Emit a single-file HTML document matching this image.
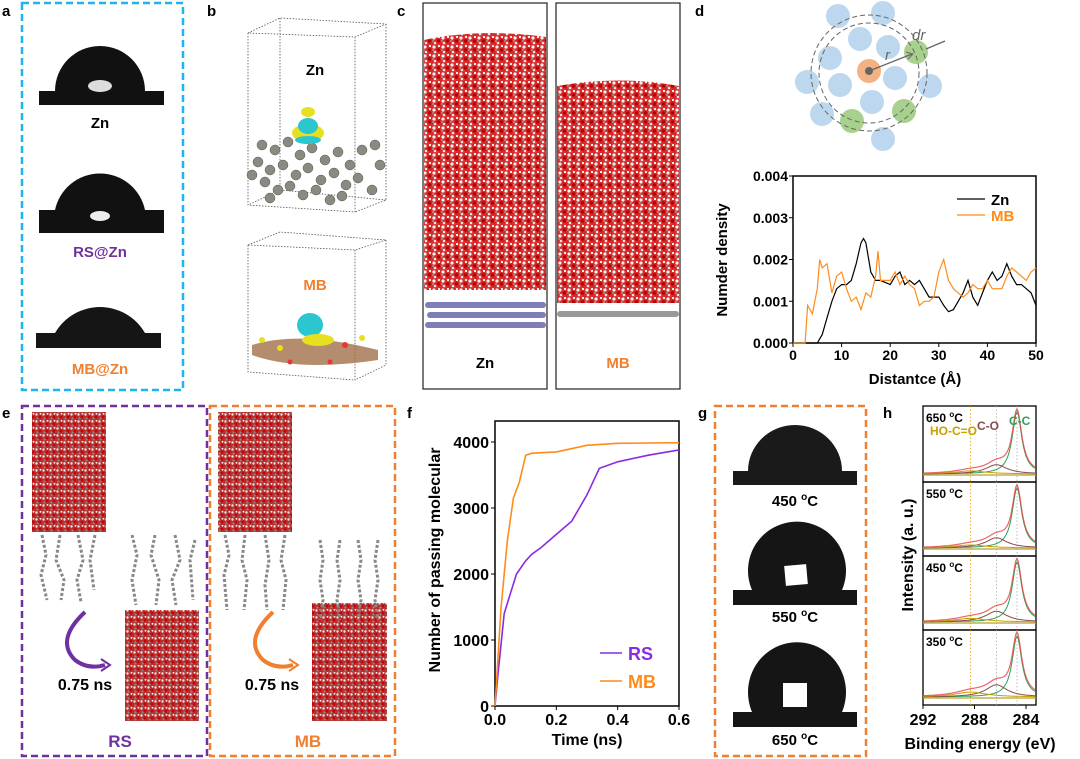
<!DOCTYPE html>
<html><head><meta charset="utf-8"><style>
body{margin:0;background:#fff}
svg{display:block;font-family:"Liberation Sans",Arial,sans-serif;font-weight:bold}
</style></head><body>
<svg id="fig" width="1080" height="759" viewBox="0 0 1080 759">
<defs>
<pattern id="water" width="9" height="9" patternUnits="userSpaceOnUse">
<rect width="9" height="9" fill="#d42a2a"/>
<circle cx="2" cy="2" r="1.6" fill="#f2f2f2"/><circle cx="6.5" cy="5" r="1.7" fill="#b80000"/>
<circle cx="3" cy="7" r="1.3" fill="#e8e8e8"/><circle cx="7" cy="1" r="1.1" fill="#ffffff"/>
<circle cx="1" cy="5" r="1" fill="#999"/><circle cx="5" cy="8.3" r="1" fill="#ee3030"/>
</pattern>
<pattern id="water2" width="7" height="7" patternUnits="userSpaceOnUse">
<rect width="7" height="7" fill="#b83030"/>
<circle cx="1.5" cy="1.5" r="1.2" fill="#e8e8e8"/><circle cx="5" cy="4" r="1.4" fill="#c00"/>
<circle cx="2.5" cy="5.5" r="1.1" fill="#888"/><circle cx="5.5" cy="0.8" r="0.9" fill="#f5f5f5"/>
</pattern>
</defs>

<g font-size="15" fill="#000">
<text x="2" y="16">a</text><text x="207" y="16">b</text><text x="397" y="16">c</text><text x="695" y="16">d</text>
<text x="2" y="418">e</text><text x="407" y="418">f</text><text x="698" y="418">g</text><text x="883" y="418">h</text>
</g>

<g>
<rect x="22" y="3" width="161" height="387" fill="none" stroke="#1eb4ef" stroke-width="2.5" stroke-dasharray="7,4"/>
<path d="M39,91 H55 A41,41 0 0 1 145,91 H164 V105 H39Z" fill="#111"/>
<ellipse cx="100" cy="86" rx="12" ry="6" fill="#ddd"/>
<text x="100" y="128" font-size="15" text-anchor="middle">Zn</text>
<path d="M39,210 H55 A46,46 0 0 1 145,210 H164 V233 H39Z" fill="#111"/>
<ellipse cx="100" cy="216" rx="10" ry="5" fill="#eee"/>
<text x="100" y="257" font-size="15" text-anchor="middle" fill="#7030a0">RS@Zn</text>
<path d="M36,333 H55 A52,52 0 0 1 145,333 H161 V348 H36Z" fill="#151515"/>
<text x="100" y="374" font-size="15" text-anchor="middle" fill="#f08030">MB@Zn</text>
</g>

<g fill="none" stroke="#555" stroke-width="0.8" stroke-dasharray="1.5,1.5">
<path d="M248,33 L280,18 L386,24 L355,37 Z M248,33 V205 L355,212 V37 M386,24 V200 L355,212 M280,18 V190 L248,205 M280,190 L386,200"/>
<path d="M248,245 L280,232 L386,240 L355,250 Z M248,245 V372 L355,380 V250 M386,240 V365 L355,380"/>
</g>
<g fill="#8a8a80" stroke="#555" stroke-width="0.5">
<circle cx="262" cy="145" r="5"/><circle cx="275" cy="150" r="5"/><circle cx="288" cy="142" r="5"/><circle cx="300" cy="155" r="5"/><circle cx="312" cy="148" r="5"/><circle cx="325" cy="160" r="5"/><circle cx="338" cy="152" r="5"/><circle cx="350" cy="165" r="5"/><circle cx="362" cy="150" r="5"/><circle cx="375" cy="145" r="5"/>
<circle cx="258" cy="162" r="5"/><circle cx="270" cy="170" r="5"/><circle cx="283" cy="165" r="5"/><circle cx="296" cy="175" r="5"/><circle cx="308" cy="168" r="5"/><circle cx="321" cy="180" r="5"/><circle cx="334" cy="173" r="5"/><circle cx="346" cy="185" r="5"/><circle cx="358" cy="178" r="5"/><circle cx="372" cy="190" r="5"/>
<circle cx="265" cy="182" r="5"/><circle cx="278" cy="190" r="5"/><circle cx="290" cy="186" r="5"/><circle cx="303" cy="195" r="5"/><circle cx="316" cy="190" r="5"/><circle cx="330" cy="200" r="5"/><circle cx="342" cy="196" r="5"/><circle cx="252" cy="175" r="5"/><circle cx="270" cy="198" r="5"/><circle cx="380" cy="165" r="5"/>
</g>
<g>
<ellipse cx="308" cy="133" rx="16" ry="9" fill="#e6e020"/><ellipse cx="308" cy="126" rx="10" ry="8" fill="#2cc6d0"/><ellipse cx="308" cy="112" rx="7" ry="5" fill="#e6e020"/><ellipse cx="308" cy="140" rx="13" ry="4" fill="#2cc6d0"/>
</g>
<text x="315" y="75" font-size="15" text-anchor="middle">Zn</text>
<text x="315" y="290" font-size="15" text-anchor="middle" fill="#f08030">MB</text>
<g>
<path d="M252,345 Q300,330 378,350 L378,360 Q300,372 252,355Z" fill="#a0704a" opacity="0.8"/>
<ellipse cx="310" cy="325" rx="13" ry="12" fill="#2cc6d0"/><ellipse cx="318" cy="340" rx="16" ry="6" fill="#e6e020"/>
<circle cx="262" cy="340" r="3" fill="#e6e020"/><circle cx="280" cy="348" r="3" fill="#e6e020"/><circle cx="345" cy="345" r="3" fill="#e33"/><circle cx="362" cy="338" r="3" fill="#e6e020"/><circle cx="290" cy="362" r="2.5" fill="#e33"/><circle cx="330" cy="362" r="2.5" fill="#e33"/>
</g>

<g>
<rect x="423" y="3" width="124" height="386" fill="none" stroke="#222" stroke-width="1.2"/>
<rect x="556" y="3" width="124" height="386" fill="none" stroke="#222" stroke-width="1.2"/>
<path d="M424,40 Q480,28 546,37 V290 L424,290Z" fill="url(#water)"/>
<path d="M557,86 Q620,75 679,86 V303 L557,303Z" fill="url(#water)"/>
<g fill="#7f7fb8"><rect x="425" y="302" width="121" height="6" rx="3"/><rect x="427" y="312" width="119" height="6" rx="3"/><rect x="425" y="322" width="121" height="6" rx="3"/></g>
<rect x="557" y="311" width="122" height="6" rx="3" fill="#999"/>
<text x="485" y="368" font-size="15" text-anchor="middle">Zn</text>
<text x="618" y="368" font-size="15" text-anchor="middle" fill="#f08030">MB</text>
</g>

<g>
<g fill="#bdd7ee">
<circle cx="838" cy="16" r="12"/><circle cx="883" cy="13" r="12"/><circle cx="860" cy="39" r="12"/><circle cx="888" cy="47" r="12"/><circle cx="830" cy="58" r="12"/><circle cx="895" cy="78" r="12"/><circle cx="807" cy="82" r="12"/><circle cx="840" cy="85" r="12"/><circle cx="930" cy="86" r="12"/><circle cx="872" cy="102" r="12"/><circle cx="822" cy="114" r="12"/><circle cx="883" cy="139" r="12"/>
</g>
<g fill="#a9d18e"><circle cx="916" cy="52" r="12"/><circle cx="852" cy="121" r="12"/><circle cx="904" cy="111" r="12"/></g>
<circle cx="869" cy="71" r="12" fill="#f4b183"/><circle cx="869" cy="71" r="4" fill="#666"/>
<circle cx="869" cy="73" r="50" fill="none" stroke="#666" stroke-dasharray="5,3"/>
<circle cx="869" cy="73" r="58" fill="none" stroke="#666" stroke-dasharray="5,3"/>
<line x1="869" y1="71" x2="912" y2="54" stroke="#666" stroke-width="1.3"/><path d="M906,52 L913,54 L908,59" fill="none" stroke="#666"/>
<line x1="945" y1="41" x2="926" y2="49" stroke="#666" stroke-width="1.3"/>
<text x="885" y="60" font-size="15" font-weight="normal" font-style="italic" fill="#666">r</text>
<text x="912" y="40" font-size="15" font-weight="normal" font-style="italic" fill="#666">dr</text>
</g>
<g id="chartD"></g>

<g>
<rect x="22" y="406" width="185" height="350" fill="none" stroke="#7030a0" stroke-width="2.5" stroke-dasharray="7,4"/>
<rect x="210" y="406" width="185" height="350" fill="none" stroke="#f08030" stroke-width="2.5" stroke-dasharray="7,4"/>
<rect x="32" y="412" width="74" height="120" fill="url(#water2)"/>
<rect x="125" y="610" width="74" height="111" fill="url(#water2)"/>
<rect x="218" y="412" width="74" height="120" fill="url(#water2)"/>
<rect x="312" y="603" width="75" height="118" fill="url(#water2)"/>
<g stroke="#888" stroke-width="3" fill="none" stroke-dasharray="3,2">
<path d="M42,535 l4,20 -5,20 6,25"/><path d="M60,535 l-4,25 8,20 -3,20"/><path d="M78,535 l5,25 -6,20 4,22"/><path d="M95,535 l-5,25 4,30"/>
<path d="M132,535 l5,20 -5,25 4,25"/><path d="M155,535 l-4,20 8,25 -3,25"/><path d="M175,535 l5,25 -8,20 4,25"/><path d="M195,540 l-5,20 3,40"/>
<path d="M225,535 l4,20 -5,20 3,35"/><path d="M245,535 l-3,25 5,20 -3,30"/><path d="M265,535 l4,25 -4,25 2,25"/><path d="M285,535 l-4,25 5,20 -3,30"/>
<path d="M320,540 l3,20 -3,20 3,20 -3,20"/><path d="M340,540 l-3,20 3,20 -3,20 3,20"/><path d="M358,540 l3,20 -3,20 3,20 -3,20"/><path d="M378,540 l-3,20 3,20 -3,20 3,20"/>
</g>
<path d="M85,612 Q55,640 75,660 Q88,670 105,665" fill="none" stroke="#7030a0" stroke-width="4"/>
<path d="M101,659 L110,665 L101,671" fill="none" stroke="#7030a0" stroke-width="2"/>
<path d="M273,612 Q243,640 263,660 Q276,670 293,665" fill="none" stroke="#f08030" stroke-width="4"/>
<path d="M289,659 L298,665 L289,671" fill="none" stroke="#f08030" stroke-width="2"/>
<text x="85" y="690" font-size="16" text-anchor="middle">0.75 ns</text>
<text x="272" y="690" font-size="16" text-anchor="middle">0.75 ns</text>
<text x="120" y="747" font-size="17" text-anchor="middle" fill="#7030a0">RS</text>
<text x="308" y="747" font-size="17" text-anchor="middle" fill="#f08030">MB</text>
</g>

<g id="chartF"></g>

<g>
<rect x="715" y="406" width="151" height="350" fill="none" stroke="#f08030" stroke-width="2.5" stroke-dasharray="7,4"/>
<path d="M733,471 H748 A47,46 0 0 1 842,471 H857 V485 H733Z" fill="#1a1a1a"/>
<text x="795" y="506" font-size="15" text-anchor="middle">450 <tspan font-size="10" dy="-6">o</tspan><tspan dy="6">C</tspan></text>
<path d="M733,590 H752 A49,49 0 1 1 842,590 H857 V605 H733Z" fill="#151515"/>
<rect x="785" y="565" width="22" height="20" fill="#fff" transform="rotate(-5 796 575)"/>
<text x="795" y="622" font-size="15" text-anchor="middle">550 <tspan font-size="10" dy="-6">o</tspan><tspan dy="6">C</tspan></text>
<path d="M733,712 H752 A49,50 0 1 1 842,712 H857 V727 H733Z" fill="#151515"/>
<rect x="783" y="683" width="24" height="24" fill="#fff"/>
<text x="795" y="745" font-size="15" text-anchor="middle">650 <tspan font-size="10" dy="-6">o</tspan><tspan dy="6">C</tspan></text>
</g>

<g id="chartH"></g>
</svg>

<script>
const dX_Zn = [0,5,6,7,8,9,10,11,12,13,14,14.5,15,16,17,18,20,21,22,23,24,25,26,27,28,30,31,32,33,34,35,36,37,38,39,40,41,42,43,44,45,46,47,48,49,50];
const dY_Zn = [0,0,0.0002,0.0006,0.001,0.0013,0.0014,0.0014,0.0015,0.0019,0.0024,0.0025,0.0024,0.0017,0.0015,0.0015,0.0014,0.0016,0.0017,0.0014,0.0015,0.0014,0.0015,0.0013,0.0011,0.0011,0.0009,0.00075,0.0008,0.001,0.0012,0.0015,0.0011,0.0009,0.0012,0.0015,0.0017,0.0015,0.0016,0.0019,0.0016,0.0014,0.0014,0.0013,0.0012,0.0009];
const dX_MB = [0,2.5,3,4,5,5.5,6,7,8,9,10,11,12,13,14,15,16,17,17.5,18,19,20,21,22,23,24,25,26,27,28,29,30,31,32,33,34,35,36,37,38,39,40,41,42,43,44,45,46,47,48,49,50];
const dY_MB = [0,0,0.0009,0.0007,0.0013,0.002,0.0018,0.0019,0.0012,0.0016,0.0017,0.0013,0.001,0.0011,0.0008,0.0012,0.0011,0.0016,0.0022,0.0015,0.0015,0.0015,0.0017,0.0014,0.0016,0.0014,0.0013,0.0009,0.001,0.001,0.0011,0.0017,0.002,0.0015,0.0013,0.0012,0.0011,0.0012,0.0014,0.0013,0.0013,0.0015,0.0013,0.0013,0.0013,0.0016,0.0018,0.0017,0.0016,0.0015,0.0017,0.0018];
const dXTicks = [0,10,20,30,40,50];
const dYTicks = ["0.000","0.001","0.002","0.003","0.004"];
const fX_RS = [0,0.01,0.03,0.05,0.07,0.1,0.12,0.15,0.2,0.25,0.3,0.34,0.4,0.5,0.6];
const fY_RS = [0,500,1400,1700,2000,2200,2300,2400,2600,2800,3200,3600,3700,3800,3880];
const fX_MB = [0,0.02,0.04,0.06,0.08,0.1,0.12,0.2,0.3,0.4,0.6];
const fY_MB = [0,1500,2500,3150,3400,3800,3830,3850,3950,3980,3990];
const fXTicks = ["0.0","0.2","0.4","0.6"];
const fYTicks = [0,1000,2000,3000,4000];
const hTemps = ["650","550","450","350"];
const hCC = [1.0,1.0,1.0,1.0];
const hCO = [0.15,0.17,0.18,0.2];
const hCOOH = [0.05,0.05,0.06,0.08];
const hPeaks = [284.7,286.3,288.3];
const hXTicks = [292,288,284];

const NS="http://www.w3.org/2000/svg";
function mk(parent,tag,attrs,text){const e=document.createElementNS(NS,tag);for(const k in attrs)e.setAttribute(k,attrs[k]);if(text!==undefined)e.textContent=text;parent.appendChild(e);return e;}

(function(){
const g=document.getElementById('chartD');
const x0=793,x1=1036,y0=343,y1=176;
const sx=v=>x0+(v/50)*(x1-x0), sy=v=>y0-(v/0.004)*(y0-y1);
const box=mk(g,'rect',{x:x0,y:y1,width:x1-x0,height:y0-y1,fill:'none',stroke:'#000','stroke-width':1.5});


dXTicks.forEach(v=>{mk(g,'line',{x1:sx(v),x2:sx(v),y1:y0,y2:y0+4,stroke:'#000'});
const t=mk(g,'text',{x:sx(v),y:y0+17,'font-size':14,'text-anchor':'middle'},v);

});
dYTicks.forEach((s,i)=>{const v=parseFloat(s);mk(g,'line',{x1:x0,x2:x0-4,y1:sy(v),y2:sy(v),stroke:'#000'});
const t=mk(g,'text',{x:x0-5,y:sy(v)+5,'font-size':14,'text-anchor':'end'},s);

});
const xt=mk(g,'text',{x:915,y:384,'font-size':15,'text-anchor':'middle'},'Distantce (Å)');


const yt=mk(g,'text',{x:0,y:0,'font-size':15,'text-anchor':'middle',transform:'translate(727,260) rotate(-90)'},'Numder density');


const lz=mk(g,'path',{d:dX_Zn.map((v,i)=>(i?'L':'M')+sx(v).toFixed(1)+','+sy(dY_Zn[i]).toFixed(1)).join(''),fill:'none',stroke:'#000','stroke-width':1.2});


const lm=mk(g,'path',{d:dX_MB.map((v,i)=>(i?'L':'M')+sx(v).toFixed(1)+','+sy(dY_MB[i]).toFixed(1)).join(''),fill:'none',stroke:'#ff8c1a','stroke-width':1.2});


mk(g,'line',{x1:957,x2:985,y1:199,y2:199,stroke:'#000','stroke-width':1.2});
const l1=mk(g,'text',{x:991,y:205,'font-size':15},'Zn');


mk(g,'line',{x1:957,x2:985,y1:215,y2:215,stroke:'#ff8c1a','stroke-width':1.2});
const l2=mk(g,'text',{x:991,y:221,'font-size':15,fill:'#ff8c1a'},'MB');


})();

(function(){
const g=document.getElementById('chartF');
const x0=495,x1=679,y0=706,yTop=421;
const sx=v=>x0+(v/0.6)*(x1-x0), sy=v=>y0-v*0.066;
const box=mk(g,'rect',{x:x0,y:yTop,width:x1-x0,height:y0-yTop,fill:'none',stroke:'#000','stroke-width':1.5});


fXTicks.forEach(s=>{const v=parseFloat(s);mk(g,'line',{x1:sx(v),x2:sx(v),y1:y0,y2:y0+4,stroke:'#000'});
const t=mk(g,'text',{x:sx(v),y:y0+19,'font-size':16,'text-anchor':'middle'},s);

});
fYTicks.forEach(v=>{mk(g,'line',{x1:x0,x2:x0-4,y1:sy(v),y2:sy(v),stroke:'#000'});
const t=mk(g,'text',{x:x0-6,y:sy(v)+6,'font-size':16,'text-anchor':'end'},v);

});
const xt=mk(g,'text',{x:587,y:745,'font-size':16,'text-anchor':'middle'},'Time (ns)');


const yt=mk(g,'text',{x:0,y:0,'font-size':16,'text-anchor':'middle',transform:'translate(440,560) rotate(-90)'},'Number of passing molecular');


const lr=mk(g,'path',{d:fX_RS.map((v,i)=>(i?'L':'M')+sx(v).toFixed(1)+','+sy(fY_RS[i]).toFixed(1)).join(''),fill:'none',stroke:'#8a2be2','stroke-width':1.6});


const lm=mk(g,'path',{d:fX_MB.map((v,i)=>(i?'L':'M')+sx(v).toFixed(1)+','+sy(fY_MB[i]).toFixed(1)).join(''),fill:'none',stroke:'#ff8c1a','stroke-width':1.6});


mk(g,'line',{x1:600,x2:622,y1:653,y2:653,stroke:'#8a2be2','stroke-width':1.6});
const a=mk(g,'text',{x:628,y:660,'font-size':18,fill:'#8a2be2'},'RS');


mk(g,'line',{x1:600,x2:622,y1:681,y2:681,stroke:'#ff8c1a','stroke-width':1.6});
const b=mk(g,'text',{x:628,y:688,'font-size':18,fill:'#ff8c1a'},'MB');


})();

(function(){
const g=document.getElementById('chartH');
const x0=923,x1=1036;
const sx=be=>x0+(292-be)*12.875;
const tops=[406,482,556,630],bot=705;
const lor=(x,c,w)=>1/(1+((x-c)/w)**2);
hTemps.forEach((T,i)=>{
 const top=tops[i],bottom=(i<3?tops[i+1]:bot),base=bottom-8,H=bottom-top-14;
 const fr=mk(g,'rect',{x:x0,y:top,width:x1-x0,height:bottom-top,fill:'none',stroke:'#000','stroke-width':1.3});
 
 
 const cols=['#2ca05a','#8b4a4a','#c8a000'],vals=[hCC[i],hCO[i],hCOOH[i]],wid=[0.45,1.0,1.5];
 hPeaks.forEach((p,k)=>mk(g,'line',{x1:sx(p),x2:sx(p),y1:top,y2:bottom,stroke:k==2?'#e0a000':'#aaa','stroke-width':0.8,'stroke-dasharray':'1.5,2'}));
 const bes=[];for(let b=292;b>=283.2;b-=0.1)bes.push(b);
 hPeaks.forEach((p,k)=>{
  const d=bes.map((b,j)=>(j?'L':'M')+sx(b).toFixed(1)+','+(base-H*vals[k]*lor(b,p,wid[k])).toFixed(1)).join('');
  const pk=mk(g,'path',{d:d,fill:'none',stroke:cols[k],'stroke-width':1});
  
  
 });
 const d=bes.map((b,j)=>{let s=0;hPeaks.forEach((p,k)=>s+=vals[k]*lor(b,p,wid[k]));return (j?'L':'M')+sx(b).toFixed(1)+','+(base-H*s).toFixed(1);}).join('');
 const en=mk(g,'path',{d:d,fill:'none',stroke:'#e84040','stroke-width':1.2,opacity:0.8});
 
 
 mk(g,'line',{x1:x0,x2:x1,y1:base+1,y2:base+1,stroke:'#b8a030','stroke-width':1.2});
 const lb=mk(g,'text',{x:x0+3,y:top+16,'font-size':12});
 
 
 lb.innerHTML=T+' <tspan font-size="8" dy="-5">o</tspan><tspan dy="5">C</tspan>';
});
const t1=mk(g,'text',{x:977,y:435,'font-size':12,fill:'#c8a000','text-anchor':'end'},'HO-C=O');
const t2=mk(g,'text',{x:977,y:430,'font-size':12,fill:'#8b4a4a'},'C-O');
const t3=mk(g,'text',{x:1009,y:425,'font-size':12,fill:'#2ca05a'},'C-C');
hXTicks.forEach(v=>{mk(g,'line',{x1:sx(v),x2:sx(v),y1:bot,y2:bot+4,stroke:'#000'});
const t=mk(g,'text',{x:sx(v),y:bot+20,'font-size':16,'text-anchor':'middle'},v);

});
const xt=mk(g,'text',{x:980,y:749,'font-size':16,'text-anchor':'middle'},'Binding energy (eV)');


const yt=mk(g,'text',{x:0,y:0,'font-size':16,'text-anchor':'middle',transform:'translate(913,555) rotate(-90)'},'Intensity (a. u.)');


})();
</script>
</body></html>
